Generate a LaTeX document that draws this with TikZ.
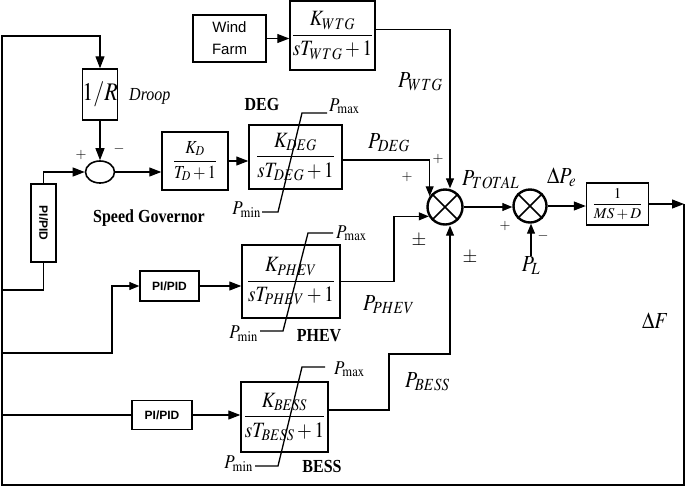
\documentclass[tikz,border=0pt]{standalone}
\usepackage{mathptmx}
\usepackage{fontspec}
\setmainfont{Liberation Serif}
\newfontfamily\sansf{Liberation Sans}
\usetikzlibrary{arrows.meta,shapes.geometric}
\newcommand\vst[1]{\scalebox{1}[1.15]{#1}}
\tikzset{
 blk/.style={draw, line width=1.4pt, inner sep=0pt, font=\fontsize{19}{21}\selectfont},
 conn/.style={line width=1.1pt},
 arr/.style={conn, -{Triangle[length=12pt,width=9pt]}},
 sarr/.style={conn, -{Triangle[length=10pt,width=8pt]}},
 sumj/.style={circle, draw, line width=2.4pt, minimum size=35pt, inner sep=0pt},
 lab/.style={font=\fontsize{20}{22}\selectfont, inner sep=0pt},
 plim/.style={font=\fontsize{17}{19}\selectfont, inner sep=0pt},
 boldlab/.style={font=\fontsize{16}{18}\selectfont\bfseries, inner sep=0pt},
 sgn/.style={font=\fontsize{14}{16}\selectfont, inner sep=0pt},
 pmsgn/.style={font=\fontsize{19}{21}\selectfont, inner sep=0pt},
 pid/.style={draw, line width=1.4pt, inner sep=0pt, font=\sansf\bfseries\fontsize{12}{14}\selectfont},
 sat/.style={line width=1.3pt},
}
\begin{document}
\begin{tikzpicture}[x=1pt,y=-1pt]
\useasboundingbox (0,0) rectangle (685,488);
% blocks
\node[blk, font=\sansf\fontsize{15}{22}\selectfont, align=center, minimum width=73pt, minimum height=47pt] (wf) at (229.5,38.5) {Wind\\Farm};
\node[blk, minimum width=85pt, minimum height=69pt] (wtg) at (332.5,35.5) {\vst{$\displaystyle\frac{K_{WTG}}{sT_{WTG}+1}$}};
\node[blk, font=\fontsize{22}{24}\selectfont, minimum width=34pt, minimum height=51pt] (droop) at (100,94.5) {\vst{$1/R$}};
\node[ellipse, draw, line width=1.6pt, minimum width=29pt, minimum height=22pt, inner sep=0pt] (gov) at (100,172) {};
\node[pid, rotate=-90, minimum width=78pt, minimum height=25pt] (pid1) at (43.5,223) {PI/PID};
\node[blk, font=\fontsize{16}{18}\selectfont, minimum width=66pt, minimum height=58pt] (kd) at (195,161) {\vst{$\displaystyle\frac{K_D}{T_D+1}$}};
\node[blk, minimum width=93pt, minimum height=64pt] (deg) at (295.5,157) {\vst{$\displaystyle\frac{K_{DEG}}{sT_{DEG}+1}$}};
\node[pid, minimum width=59pt, minimum height=30pt] (pid2) at (169.5,286) {PI/PID};
\node[blk, minimum width=98pt, minimum height=73pt] (phev) at (291,281.5) {\vst{$\displaystyle\frac{K_{PHEV}}{sT_{PHEV}+1}$}};
\node[pid, minimum width=60pt, minimum height=29pt] (pid3) at (162,415) {PI/PID};
\node[blk, minimum width=87pt, minimum height=70pt] (bess) at (284.5,417) {\vst{$\displaystyle\frac{K_{BESS}}{sT_{BESS}+1}$}};
\node[sumj] (s1) at (445,207) {};
\node[sumj, minimum size=33pt] (s2) at (530,206) {};
\node[blk, font=\fontsize{15}{17}\selectfont, minimum width=62pt, minimum height=42pt] (msd) at (617.5,204) {$\displaystyle\frac{1}{MS+D}$};
\foreach \n in {s1,s2} { \draw[line width=1.6pt] (\n.45) -- (\n.225) (\n.135) -- (\n.315); }
% coordinates
\coordinate (fr) at (684,204);
\coordinate (br) at (684,485);
\coordinate (bl) at (2,485);
\coordinate (tl) at (2,36);
\coordinate (j1) at (2,290);
\coordinate (j2) at (2,353);
\coordinate (k2) at (112,353);
\coordinate (j3) at (2,415);
\coordinate (c1) at (394,283);
\coordinate (c2) at (389,354);
% connectors
\draw[arr] (wf.east) -- (wf.east -| wtg.west);
\draw[sarr] ([yshift=6pt]wtg.east) -| ([xshift=5pt]s1.north);
\draw[arr] (msd.east) -- (fr);
\draw[arr] (fr) -- (br) -- (bl) -- (tl) -| (droop.north);
\draw[arr] (droop.south) -- (gov.north);
\draw[arr] (pid1.west) |- (gov.west);
\draw[conn] (pid1.east) |- (j1);
\draw[arr] (gov.east) -- (gov.east -| kd.west);
\draw[arr] (kd.east) -- (kd.east -| deg.west);
\draw[sarr] ([yshift=-3pt]deg.east) -| (s1.145);
\draw[sarr] (phev.east) -| (c1 |- s1.210) -- (s1.210);
\draw[sarr] ([yshift=7pt]bess.east) -| (c2) -| ([xshift=5pt]s1.south);
\draw[sarr] (s1.east) -- (s1.east -| s2.west);
\draw[arr] (s2.east) -- (s2.east -| msd.west);
\node[lab, anchor=north] (pl) at (531,256) {\vst{$P_L$}};
\draw[sarr] (pl.north) -- (pl.north |- s2.south);
\draw[sarr] (j2) -- (k2) |- (pid2.west);
\draw[arr] (pid2.east) -- (pid2.east -| phev.west);
\draw[conn] (j3) -- (pid3.west);
\draw[arr] (pid3.east) -- (pid3.east -| bess.west);
% saturation
\draw[sat] (327,113) -- (302,113) -- (278,212) -- (262,212);
\draw[sat] (333,233) -- (308,233) -- (283,331) -- (260,331);
\draw[sat] (325,367) -- (302,367) -- (278,466) -- (255,466);
\node[plim, anchor=base west] (dmax) at (329,111) {\vst{$P_{\max}$}};
\node[plim, anchor=base east] (dmin) at (261,214) {\vst{$P_{\min}$}};
\node[plim, anchor=base west] (pmax) at (336,238) {\vst{$P_{\max}$}};
\node[plim, anchor=base east] (pmin) at (258,338) {\vst{$P_{\min}$}};
\node[plim, anchor=base west] (bmax) at (334,374) {\vst{$P_{\max}$}};
\node[plim, anchor=base east] (bmin) at (253,468) {\vst{$P_{\min}$}};
% labels
\node[boldlab] (ldeg) at (262,104) {\vst{DEG}};
\node[boldlab] (lphev) at (319,336) {\vst{PHEV}};
\node[boldlab] (lbess) at (322,466) {\vst{BESS}};
\node[boldlab, anchor=base west] (lsg) at (93,222) {\vst{Speed Governor}};
\node[font=\fontsize{16}{18}\selectfont\itshape, anchor=base west, inner sep=0pt] (ldroop) at (129,100) {\vst{Droop}};
\node[lab, anchor=base west] (lwtg) at (398,87) {\vst{$P_{WTG}$}};
\node[lab, anchor=base west] (ldegp) at (368,148) {\vst{$P_{DEG}$}};
\node[lab, anchor=base west] (ltot) at (462,185) {\vst{$P_{TOTAL}$}};
\node[lab, anchor=base west] (lpe) at (547,183) {\vst{$\Delta P_e$}};
\node[lab, anchor=base west] (lphevp) at (363,310) {\vst{$P_{PHEV}$}};
\node[lab, anchor=base west] (lbessp) at (405,387) {\vst{$P_{BESS}$}};
\node[lab, anchor=base west] (ldf) at (642,328) {\vst{$\Delta F$}};
% signs
\node[sgn] (g1) at (81,155) {$+$};
\node[sgn] (g2) at (119,149) {$-$};
\node[sgn] (g3) at (438,159) {$+$};
\node[sgn] (g4) at (407,177) {$+$};
\node[pmsgn] (g5) at (419,241) {$\pm$};
\node[pmsgn] (g6) at (470,258) {$\pm$};
\node[sgn] (g7) at (505,226) {$+$};
\node[sgn] (g8) at (543,236) {$-$};
\end{tikzpicture}
\end{document}
